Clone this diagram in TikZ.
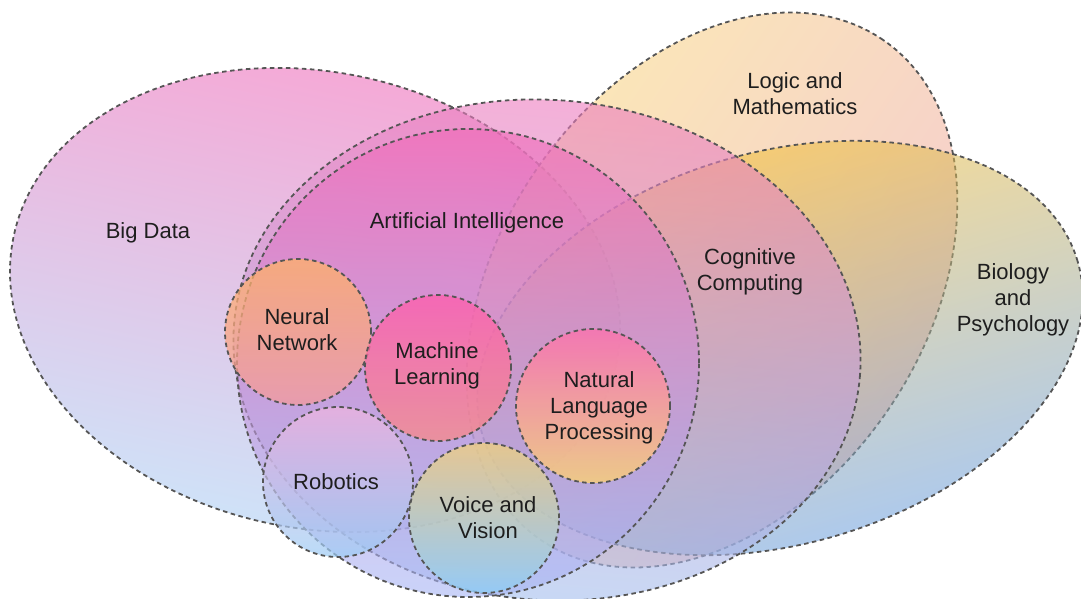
\documentclass[tikz,border=0pt]{standalone}
\usepackage{fontspec}
\setmainfont{Liberation Sans}
\definecolor{rimgray}{HTML}{555555}
\definecolor{labeltext}{HTML}{1E1E1E}
\definecolor{bdtop}{HTML}{EB55AF}
\definecolor{bdbot}{HTML}{9FC5F1}
\definecolor{cctop}{HTML}{ED7BBE}
\definecolor{ccbot}{HTML}{A3BEED}
\definecolor{aitop}{HTML}{F167B7}
\definecolor{aibot}{HTML}{A5B5F5}
\definecolor{lgtop}{HTML}{F7CD71}
\definecolor{lgbot}{HTML}{EC9C9C}
\definecolor{bytop}{HTML}{F0BE3A}
\definecolor{bybot}{HTML}{6C9EDB}
\definecolor{nntop}{HTML}{FFB366}
\definecolor{nnbot}{HTML}{F49A9E}
\definecolor{mltop}{HTML}{FF5CAD}
\definecolor{mlbot}{HTML}{F88A88}
\definecolor{nltop}{HTML}{FF6FAE}
\definecolor{nlbot}{HTML}{FFD46E}
\definecolor{rbtop}{HTML}{F0B6E0}
\definecolor{rbbot}{HTML}{9CCCF4}
\definecolor{vvtop}{HTML}{F2D27A}
\definecolor{vvbot}{HTML}{8CCDF5}
\begin{document}
\begin{tikzpicture}[x=1pt,y=1pt,
  rim/.style={draw=rimgray, line width=1.8pt, dash pattern=on 4.5pt off 3.5pt},
  field/.style={rim, fill opacity=#1},
  lbl/.style={align=center, font=\fontsize{22}{26}\selectfont, text=labeltext, inner sep=0pt},
]
\useasboundingbox (0,0) rectangle (1081,599);

% outer fields, lowest first
\shade[field=0.5, top color=bdtop, bottom color=bdbot,
  transform canvas={shift={(315,299)}, rotate=-12}]
  (0,0) ellipse [x radius=308, y radius=228];
\shade[field=0.5, top color=lgtop, bottom color=lgbot,
  transform canvas={shift={(712,309)}, rotate=55.6}]
  (0,0) ellipse [x radius=303, y radius=213];
\shade[field=0.55, top color=bytop, bottom color=bybot,
  transform canvas={shift={(780,251)}, rotate=16.2}]
  (0,0) ellipse [x radius=310, y radius=196];
\shade[field=0.6, top color=cctop, bottom color=ccbot,
  transform canvas={shift={(547,249)}, rotate=-5}]
  (0,0) ellipse [x radius=314, y radius=250];
\shade[field=0.6, top color=aitop, bottom color=aibot]
  (468,236) ellipse [x radius=231, y radius=234];

% inner circles
\shade[field=0.75, top color=nntop, bottom color=nnbot] (298,267) circle [radius=73];
\shade[field=0.75, top color=mltop, bottom color=mlbot] (438,231) circle [radius=73];
\shade[field=0.75, top color=nltop, bottom color=nlbot] (593,193) circle [radius=77];
\shade[field=0.7, top color=rbtop, bottom color=rbbot] (338,117) circle [radius=75];
\shade[field=0.75, top color=vvtop, bottom color=vvbot] (484,81) circle [radius=75];

% labels
\node[lbl] (bigdata) at (148,366) {Big Data};
\node[lbl] (ai) at (467,376) {Artificial Intelligence};
\node[lbl] (cogcomp) at (750,327) {Cognitive\\Computing};
\node[lbl] (logic) at (795,505) {Logic and\\Mathematics};
\node[lbl] (biology) at (1013,299) {Biology\\and\\Psychology};
\node[lbl] (neural) at (297,269) {Neural\\Network};
\node[lbl] (machine) at (437,233) {Machine\\Learning};
\node[lbl] (nlp) at (599,191) {Natural\\Language\\Processing};
\node[lbl] (robotics) at (336,117) {Robotics};
\node[lbl] (voice) at (488,81) {Voice and\\Vision};
\end{tikzpicture}
\end{document}
